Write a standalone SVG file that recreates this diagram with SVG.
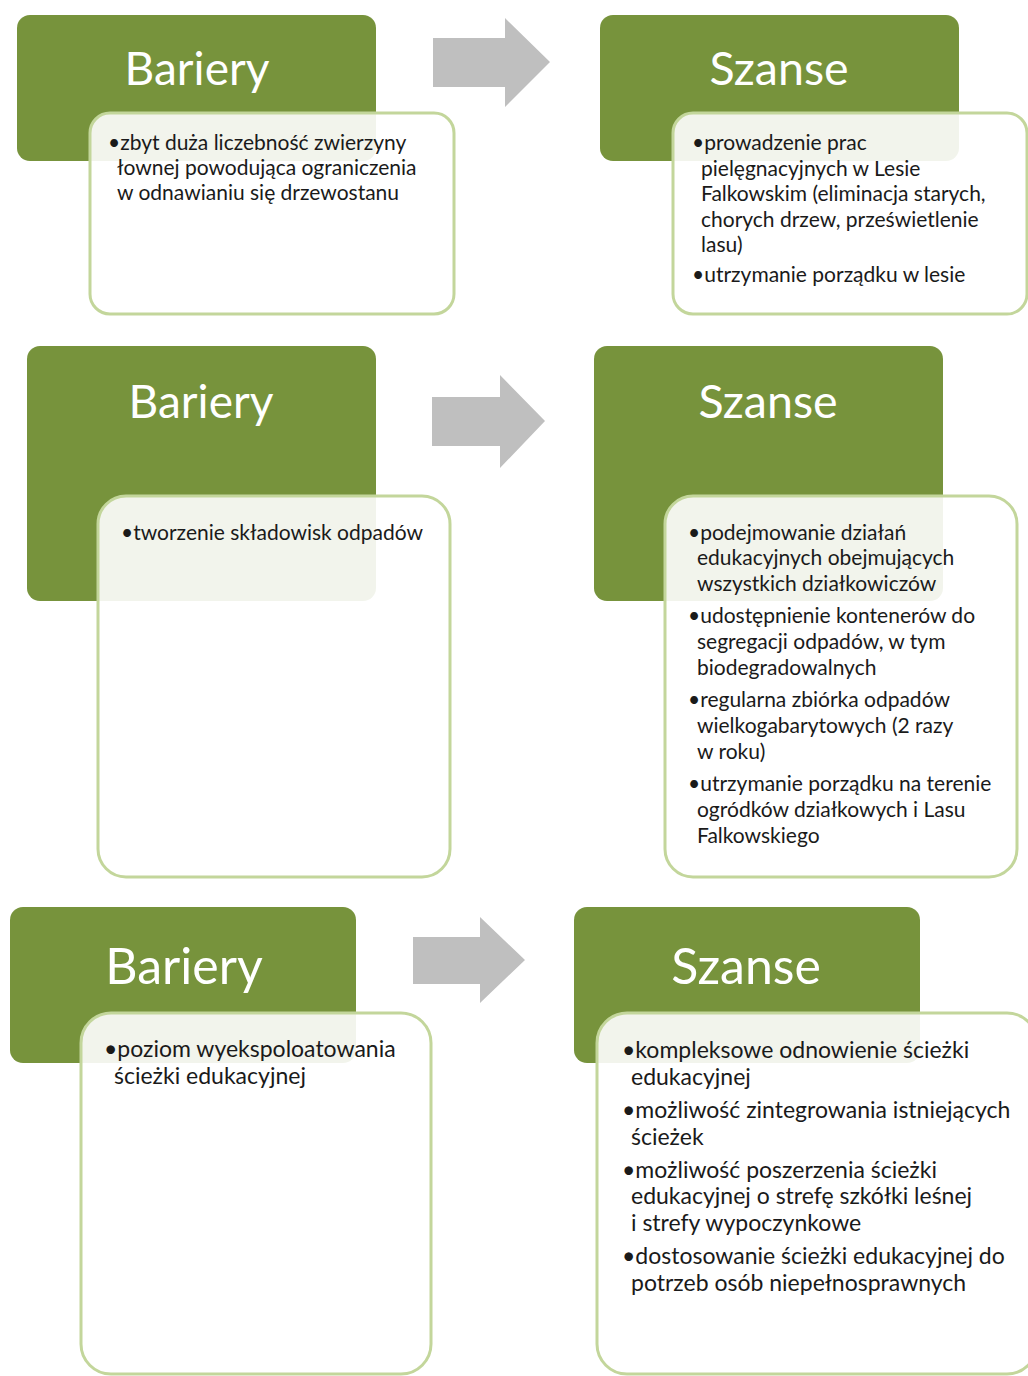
<svg xmlns="http://www.w3.org/2000/svg" width="1028" height="1376" viewBox="0 0 1028 1376">
<style>
.hdr{fill:#77933C}
.card{fill:#FFFFFF;fill-opacity:0.9;stroke:#C3D69B;stroke-width:3}
.title{font-family:Lato,"Open Sans","Liberation Sans",sans-serif;fill:#FFFFFF;text-anchor:middle}
.t{font-family:Lato,"Open Sans","Liberation Sans",sans-serif;fill:#1A1A1A;font-size:21px}
.t3{font-family:Lato,"Open Sans","Liberation Sans",sans-serif;fill:#1A1A1A;font-size:23px}
.arr{fill:#BFBFBF}
</style>
<rect width="1028" height="1376" fill="#FFFFFF"/>

<g id="connectors">
  <path class="arr" d="M433,38 H505 V18 L550,62 L505,107 V87 H433 Z"/>
  <path class="arr" d="M432,397 H500 V375 L545,421 L500,468 V446 H432 Z"/>
  <path class="arr" d="M413,937 H480 V917 L525,960 L480,1003 V984 H413 Z"/>
</g>

<g id="bariery1">
  <rect class="hdr" x="17" y="15" width="359" height="146" rx="13"/>
  <text class="title" x="197" y="85" font-size="46">Bariery</text>
  <rect class="card" x="90" y="113" width="364" height="201" rx="20"/>
  <text class="t" x="108" y="150">•zbyt duża liczebność zwierzyny</text>
  <text class="t" x="117" y="175">łownej powodująca ograniczenia</text>
  <text class="t" x="117" y="200">w odnawianiu się drzewostanu</text>
</g>

<g id="szanse1">
  <rect class="hdr" x="600" y="15" width="359" height="146" rx="13"/>
  <text class="title" x="779" y="85" font-size="46.5">Szanse</text>
  <rect class="card" x="673" y="113" width="354" height="201" rx="20"/>
  <text class="t" x="692" y="150">•prowadzenie prac</text>
  <text class="t" x="701" y="176">pielęgnacyjnych w Lesie</text>
  <text class="t" x="701" y="201">Falkowskim (eliminacja starych,</text>
  <text class="t" x="701" y="227">chorych drzew, prześwietlenie</text>
  <text class="t" x="701" y="252">lasu)</text>
  <text class="t" x="692" y="282">•utrzymanie porządku w lesie</text>
</g>

<g id="bariery2">
  <rect class="hdr" x="27" y="346" width="349" height="255" rx="13"/>
  <text class="title" x="201" y="418" font-size="46">Bariery</text>
  <rect class="card" x="98" y="496" width="352" height="381" rx="28"/>
  <text class="t" x="121" y="540">•tworzenie składowisk odpadów</text>
</g>

<g id="szanse2">
  <rect class="hdr" x="594" y="346" width="349" height="255" rx="13"/>
  <text class="title" x="768" y="418" font-size="46.5">Szanse</text>
  <rect class="card" x="665" y="496" width="352" height="381" rx="28"/>
  <text class="t" x="688" y="540">•podejmowanie działań</text>
  <text class="t" x="697" y="565">edukacyjnych obejmujących</text>
  <text class="t" x="697" y="591">wszystkich działkowiczów</text>
  <text class="t" x="688" y="623">•udostępnienie kontenerów do</text>
  <text class="t" x="697" y="649">segregacji odpadów, w tym</text>
  <text class="t" x="697" y="675">biodegradowalnych</text>
  <text class="t" x="688" y="707">•regularna zbiórka odpadów</text>
  <text class="t" x="697" y="733">wielkogabarytowych (2 razy</text>
  <text class="t" x="697" y="759">w roku)</text>
  <text class="t" x="688" y="791">•utrzymanie porządku na terenie</text>
  <text class="t" x="697" y="817">ogródków działkowych i Lasu</text>
  <text class="t" x="697" y="843">Falkowskiego</text>
</g>

<g id="bariery3">
  <rect class="hdr" x="10" y="907" width="346" height="156" rx="13"/>
  <text class="title" x="184" y="984" font-size="50">Bariery</text>
  <rect class="card" x="81" y="1013" width="350" height="361" rx="30"/>
  <text class="t3" x="104" y="1057">•poziom wyekspoloatowania</text>
  <text class="t3" x="114" y="1084">ścieżki edukacyjnej</text>
</g>

<g id="szanse3">
  <rect class="hdr" x="574" y="907" width="346" height="156" rx="13"/>
  <text class="title" x="746" y="984" font-size="50">Szanse</text>
  <rect class="card" x="597" y="1013" width="440" height="361" rx="30"/>
  <text class="t3" x="622" y="1058">•kompleksowe odnowienie ścieżki</text>
  <text class="t3" x="631" y="1085">edukacyjnej</text>
  <text class="t3" x="622" y="1118">•możliwość zintegrowania istniejących</text>
  <text class="t3" x="631" y="1145">ścieżek</text>
  <text class="t3" x="622" y="1178">•możliwość poszerzenia ścieżki</text>
  <text class="t3" x="631" y="1204">edukacyjnej o strefę szkółki leśnej</text>
  <text class="t3" x="631" y="1231">i strefy wypoczynkowe</text>
  <text class="t3" x="622" y="1264">•dostosowanie ścieżki edukacyjnej do</text>
  <text class="t3" x="631" y="1291">potrzeb osób niepełnosprawnych</text>
</g>
</svg>
